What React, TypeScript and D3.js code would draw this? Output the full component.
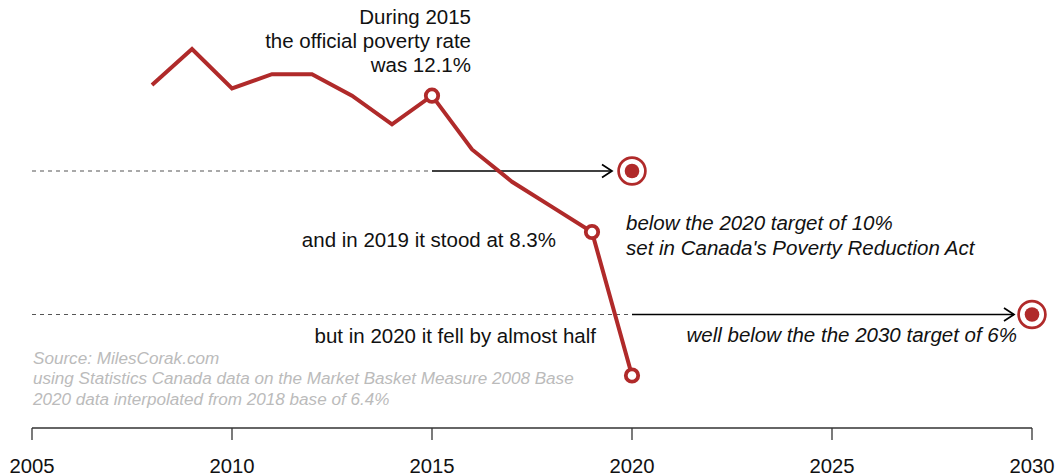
import React from "react";
import * as d3 from "d3";

const years = [2008, 2009, 2010, 2011, 2012, 2013, 2014, 2015, 2016, 2017, 2018, 2019, 2020];
const rates = [12.4, 13.4, 12.3, 12.7, 12.7, 12.1, 11.3, 12.1, 10.6, 9.7, 9.0, 8.3, 4.3];
const highlightYears = [2015, 2019, 2020];
const targetYears = [2020, 2030];
const targetRates = [10, 6];
const arrowStartYears = [2015, 2020];
const arrowEndYears = [2019.5, 2029.55];
const tickYears = [2005, 2010, 2015, 2020, 2025, 2030];
const sourceLines = [
  "Source: MilesCorak.com",
  "using Statistics Canada data on the Market Basket Measure 2008 Base",
  "2020 data interpolated from 2018 base of 6.4%",
];

const W = 1058;
const H = 476;
const RED = "#b02a2a";
const FONT = "'Liberation Sans', Arial, Helvetica, sans-serif";

export default function App() {
  const x = d3.scaleLinear().domain([2005, 2030]).range([32, 1032]);
  const y = d3.scaleLinear().domain([6, 10]).range([314.5, 171]);
  const pts = years.map((yr, i) => [yr, rates[i]] as [number, number]);
  const line = d3
    .line<[number, number]>()
    .x((d) => x(d[0]))
    .y((d) => y(d[1]));
  const axisY = 428;

  return (
    <svg
      width={W}
      height={H}
      style={{ position: "absolute", left: 0, top: 0, background: "#fff" }}
      fontFamily={FONT}
    >
      {/* target lines */}
      {targetYears.map((ty, i) => {
        const yy = y(targetRates[i]);
        const xs = x(arrowStartYears[i]);
        const xe = x(arrowEndYears[i]);
        return (
          <g key={i}>
            <line x1={x(2005)} x2={xs} y1={yy} y2={yy} stroke="#555" strokeWidth={1.2} strokeDasharray="4,4" />
            <line x1={xs} x2={xe} y1={yy} y2={yy} stroke="#000" strokeWidth={1.7} />
            <path
              d={`M${xe - 10},${yy - 6.5} L${xe},${yy} L${xe - 10},${yy + 6.5}`}
              fill="none"
              stroke="#000"
              strokeWidth={1.7}
            />
            <circle cx={x(ty)} cy={yy} r={13.4} fill="#fff" stroke={RED} strokeWidth={2.7} />
            <circle cx={x(ty)} cy={yy} r={7.3} fill={RED} />
          </g>
        );
      })}

      {/* data line */}
      <path d={line(pts) || ""} fill="none" stroke={RED} strokeWidth={4} strokeLinejoin="miter" />
      {highlightYears.map((hy) => {
        const i = years.indexOf(hy);
        return (
          <circle key={hy} cx={x(hy)} cy={y(rates[i])} r={6.2} fill="#fff" stroke={RED} strokeWidth={3.8} />
        );
      })}

      {/* annotations */}
      <g fontSize={20.5} fill="#111" textAnchor="end">
        <text x={471} y={23.5}>During 2015</text>
        <text x={471} y={47.5}>the official poverty rate</text>
        <text x={471} y={71.5}>was 12.1%</text>
        <text x={556} y={247}>and in 2019 it stood at 8.3%</text>
        <text x={596} y={343}>but in 2020 it fell by almost half</text>
      </g>
      <g fontSize={20.5} fill="#111" fontStyle="italic">
        <text x={626} y={229.5}>below the 2020 target of 10%</text>
        <text x={626} y={254.5}>set in Canada's Poverty Reduction Act</text>
        <text x={1017} y={342} textAnchor="end">well below the the 2030 target of 6%</text>
      </g>
      <g fontSize={17.1} fill="#bbb" fontStyle="italic">
        {sourceLines.map((s, i) => (
          <text key={i} x={33} y={364 + i * 20.3}>
            {s}
          </text>
        ))}
      </g>

      {/* axis */}
      <g stroke="#333" strokeWidth={1.3}>
        <line x1={x(2005)} x2={x(2030)} y1={axisY} y2={axisY} />
        {tickYears.map((t) => (
          <line key={t} x1={x(t)} x2={x(t)} y1={axisY} y2={axisY + 12} />
        ))}
      </g>
      <g fontSize={20.3} fill="#111" textAnchor="middle">
        {tickYears.map((t) => (
          <text key={t} x={x(t)} y={473}>
            {t}
          </text>
        ))}
      </g>
    </svg>
  );
}
